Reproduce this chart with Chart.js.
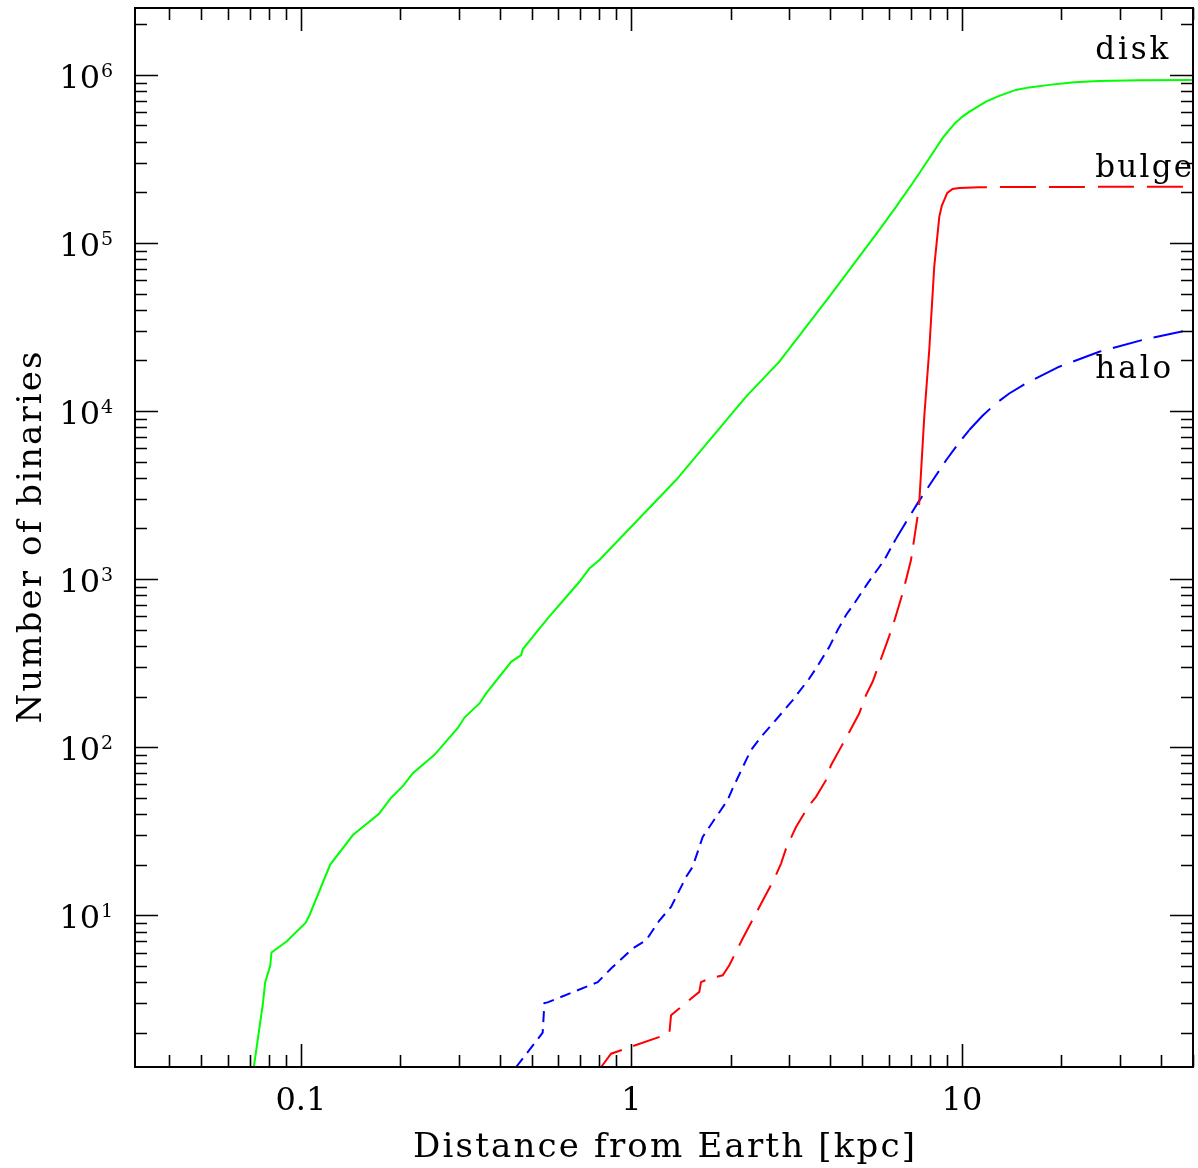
<!DOCTYPE html>
<html>
<head>
<meta charset="utf-8">
<script src="https://cdn.jsdelivr.net/npm/chart.js@4.4.1/dist/chart.umd.min.js"></script>
<style>
  body { margin: 0; background: #fff; }
  canvas { display: block; }
</style>
</head>
<body>
<canvas id="binChart" width="1198" height="1168"></canvas>
<script>
// cumulative number of binaries vs distance [kpc]

const diskX = [0.0721, 0.0768, 0.0780, 0.0808, 0.0815, 0.0907, 0.1033, 0.1062, 0.1227, 0.1437,
  0.1721, 0.1876, 0.2035, 0.2182, 0.2537, 0.2985, 0.3126, 0.347, 0.3636, 0.4328,
  0.4639, 0.4691, 0.5029, 0.5582, 0.6963, 0.7464, 0.80, 1.365, 2.223, 2.803,
  3.970, 5.624, 6.285, 7.089, 7.855, 8.737, 9.155, 9.544, 10.04, 10.52,
  11.82, 12.97, 14.56, 15.98, 18.37, 21.86, 26.02, 34.37, 49.6];
const diskY = [1.25, 3.0, 4.0, 5.0, 6.0, 7.0, 9.0, 10, 20, 30,
  40, 50, 58.6, 70, 90, 130, 150, 182, 209, 322,
  353, 382, 453, 584, 964, 1158, 1298, 3885, 12170, 19660,
  47900, 119500, 161800, 226700, 306400, 420200, 470500, 518000, 564800, 602400,
  693500, 749900, 814000, 842500, 872000, 902500, 921000, 928000, 933000];

const bulgeX = [0.810, 0.868, 1.303, 1.318, 1.605, 1.624, 1.721, 1.889, 1.978, 2.171,
  2.467, 2.707, 2.836, 2.936, 3.148, 3.453, 3.618, 3.879, 4.017, 4.256,
  4.563, 4.891, 5.126, 5.367, 5.624, 5.891, 6.168, 6.613, 7.012, 7.338,
  7.426, 7.691, 7.963, 8.245, 8.541, 8.688, 9.027, 9.367, 9.813, 11.28,
  11.9, 49.7];
const bulgeY = [1.25, 1.50, 1.98, 2.54, 3.5, 4.0, 4.2, 4.39, 5.04, 7.27,
  11.7, 16.5, 20.3, 24.9, 33.5, 45.2, 50.6, 63.6, 78.1, 96,
  123, 159, 204, 245, 315, 405, 520, 822, 1298, 2349,
  2822, 9250, 23080, 72250, 143400, 166100, 198400, 209500, 212600, 214600,
  214800, 216400];

const haloX = [0.448, 0.539, 0.5456, 0.558, 0.791, 0.868, 1.009, 1.108, 1.215, 1.318,
  1.464, 1.532, 1.643, 1.721, 1.955, 2.025, 2.223, 2.301, 2.467, 2.675,
  3.073, 3.453, 3.618, 3.833, 3.970, 4.205, 4.461, 4.725, 5.183, 5.821,
  6.316, 7.338, 8.132, 8.944, 9.678, 10.52, 11.52, 12.67, 13.90, 15.62,
  19.69, 26.02, 35.17, 49.8];
const haloY = [1.25, 2.0, 3.0, 3.03, 4.0, 4.82, 6.34, 7.1, 9.3, 11.2,
  16.9, 19.4, 29.2, 33.5, 48.4, 56.8, 83.7, 96, 115, 138,
  190, 256, 294, 353, 395, 497, 611, 717, 943, 1298,
  1740, 2822, 3831, 5076, 6276, 7707, 9338, 11110, 12710, 14620,
  18350, 22540, 26470, 30640];

const xTickValues = [0.1, 1, 10];
const xTickLabels = ['0.1', '1', '10'];
const yTickValues = [10, 100, 1000, 10000, 100000, 1000000];
const yTickExps = ['1', '2', '3', '4', '5', '6'];

const seriesNames = ['disk', 'bulge', 'halo'];

const SERIF = '"DejaVu Serif", "Liberation Serif", serif';

function toPoints(xs, ys) {
  return xs.map((x, i) => ({ x: x, y: ys[i] }));
}

// draw text stretched (with letter spacing) to a given width
function spacedText(ctx, text, x, y, width, align) {
  ctx.letterSpacing = '0px';
  const w0 = ctx.measureText(text).width;
  const ls = (width - w0) / (text.length - 1);
  ctx.letterSpacing = ls + 'px';
  ctx.textAlign = 'left';
  let x0 = x;
  if (align === 'center') x0 = x - width / 2;
  if (align === 'right') x0 = x - width;
  ctx.fillText(text, x0, y);
  ctx.letterSpacing = '0px';
}

// frame, inward ticks on all sides, labels - PGPLOT style
const framePlugin = {
  id: 'frame',
  afterDraw(chart) {
    const ctx = chart.ctx;
    const a = chart.chartArea;
    const xs = chart.scales.x;
    const ys = chart.scales.y;
    ctx.save();
    ctx.strokeStyle = '#000';
    ctx.fillStyle = '#000';

    // ticks
    ctx.lineWidth = 1.6;
    ctx.beginPath();
    for (let e = -2; e <= 1; e++) {
      for (let m = 1; m <= 9; m++) {
        const v = m * Math.pow(10, e);
        if (v < xs.min || v > xs.max) continue;
        const px = Math.round(xs.getPixelForValue(v)) + 0.5;
        const len = m === 1 ? 23 : 12;
        ctx.moveTo(px, a.bottom); ctx.lineTo(px, a.bottom - len);
        ctx.moveTo(px, a.top); ctx.lineTo(px, a.top + len);
      }
    }
    for (let e = 0; e <= 6; e++) {
      for (let m = 1; m <= 9; m++) {
        const v = m * Math.pow(10, e);
        if (v < ys.min || v > ys.max) continue;
        const py = Math.round(ys.getPixelForValue(v)) + 0.5;
        const len = m === 1 ? 23 : 12;
        ctx.moveTo(a.left, py); ctx.lineTo(a.left + len, py);
        ctx.moveTo(a.right, py); ctx.lineTo(a.right - len, py);
      }
    }
    ctx.stroke();

    // frame
    ctx.lineWidth = 2;
    ctx.strokeRect(a.left, a.top, a.right - a.left, a.bottom - a.top);

    // x tick labels
    ctx.font = '32px ' + SERIF;
    ctx.textBaseline = 'alphabetic';
    ctx.textAlign = 'center';
    xTickValues.forEach((v, i) => {
      ctx.fillText(xTickLabels[i], xs.getPixelForValue(v), a.bottom + 43);
    });

    // y tick labels 10^n
    yTickValues.forEach((v, i) => {
      const py = ys.getPixelForValue(v);
      ctx.font = '32px ' + SERIF;
      ctx.textAlign = 'right';
      ctx.fillText('10', a.left - 35, py + 13);
      ctx.font = '19px ' + SERIF;
      ctx.textAlign = 'left';
      ctx.fillText(yTickExps[i], a.left - 34, py + 2);
    });

    // axis titles
    ctx.font = '34px ' + SERIF;
    spacedText(ctx, 'Distance from Earth [kpc]', (a.left + a.right) / 2, 1157, 502, 'center');
    ctx.save();
    ctx.translate(41, (a.top + a.bottom) / 2);
    ctx.rotate(-Math.PI / 2);
    spacedText(ctx, 'Number of binaries', 0, 0, 372, 'center');
    ctx.restore();

    // curve names
    ctx.font = '31px ' + SERIF;
    const lx = xs.getPixelForValue(25.3);
    spacedText(ctx, seriesNames[0], lx, 59, 73, 'left');
    spacedText(ctx, seriesNames[1], lx, 177, 97, 'left');
    spacedText(ctx, seriesNames[2], lx, 378, 76, 'left');

    ctx.restore();
  }
};

const ctx = document.getElementById('binChart').getContext('2d');

const binChart = new Chart(ctx, {
  type: 'scatter',
  data: {
    datasets: [
      {
        label: seriesNames[0],
        data: toPoints(diskX, diskY),
        borderColor: '#00ff00',
        borderWidth: 2,
        showLine: true,
        pointRadius: 0,
        tension: 0
      },
      {
        label: seriesNames[1],
        data: toPoints(bulgeX, bulgeY),
        borderColor: '#ff0000',
        borderWidth: 2,
        showLine: true,
        pointRadius: 0,
        tension: 0,
        segment: {
          // steep part looks solid in the original, the rest long dashes
          borderDash: c => {
            const x0 = bulgeX[c.p0DataIndex];
            if (x0 >= 7.4 && x0 < 11.9) return [];
            if (x0 >= 11.9) return [36, 13];
            return [28, 12];
          },
          borderDashOffset: c => (bulgeX[c.p0DataIndex] >= 11.9 ? 36 : 0)
        }
      },
      {
        label: seriesNames[2],
        data: toPoints(haloX, haloY),
        borderColor: '#0000ff',
        borderWidth: 2,
        showLine: true,
        pointRadius: 0,
        tension: 0,
        segment: {
          borderDash: c => {
            const x0 = haloX[c.p0DataIndex];
            if (x0 < 6) return [11, 7];
            if (x0 < 10) return [20, 10];
            return [30, 12];
          }
        }
      }
    ]
  },
  options: {
    responsive: false,
    animation: false,
    layout: { padding: { left: 135, top: 8, right: 5, bottom: 101 } },
    plugins: {
      legend: { display: false },
      tooltip: { enabled: false }
    },
    scales: {
      x: { type: 'logarithmic', min: 0.0315, max: 50, display: false },
      y: { type: 'logarithmic', min: 1.25, max: 2.5e6, display: false }
    }
  },
  plugins: [framePlugin]
});
</script>
</body>
</html>
